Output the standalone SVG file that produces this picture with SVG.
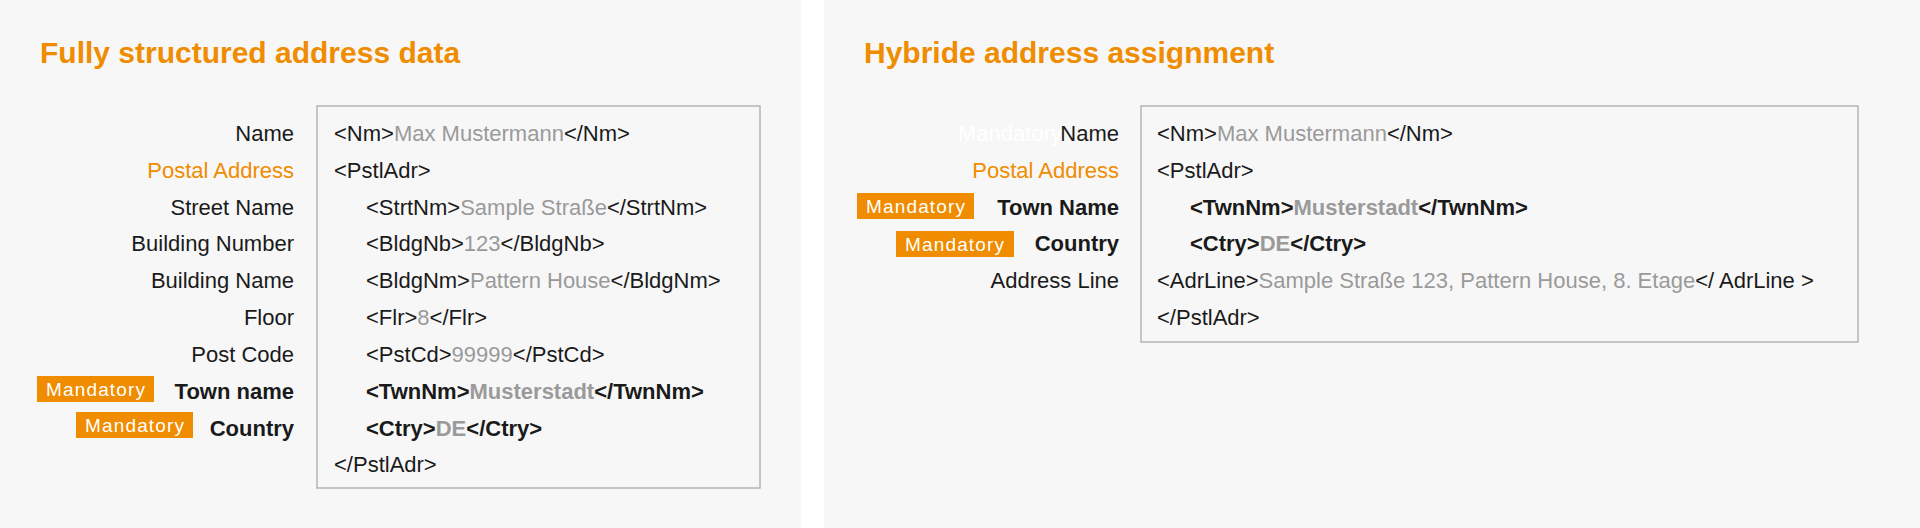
<svg xmlns="http://www.w3.org/2000/svg" width="1920" height="528" viewBox="0 0 1920 528">
<style>
text{font-family:"Liberation Sans",Arial,sans-serif;font-size:22px;fill:#1a1a1a}
.t{font-size:30px;font-weight:bold;fill:#ef8c00}
.l{text-anchor:end}
.o{fill:#ef8c00}
.g{fill:#9a9a9a}
.b{font-weight:bold}
.m{fill:#fff;font-size:19px}
.badge{fill:#ef8c00}
.box{fill:none;stroke:#b4b4b4;stroke-width:1.5}
</style>
<rect width="1920" height="528" fill="#fff"/>
<rect x="0" y="0" width="801" height="528" fill="#f7f7f7"/>
<rect x="824" y="0" width="1096" height="528" fill="#f7f7f7"/>
<g id="left">
<text class="t" x="40" y="63">Fully structured address data</text>
<rect class="box" x="317" y="106" width="443" height="382"/>
<text class="l" x="294" y="141">Name</text>
<text class="l o" x="294" y="178">Postal Address</text>
<text class="l" x="294" y="215">Street Name</text>
<text class="l" x="294" y="251">Building Number</text>
<text class="l" x="294" y="288">Building Name</text>
<text class="l" x="294" y="325">Floor</text>
<text class="l" x="294" y="362">Post Code</text>
<rect class="badge" x="37" y="376" width="117" height="26"/>
<text class="m" x="46" y="396" textLength="99">Mandatory</text>
<text class="l b" x="294" y="399">Town name</text>
<rect class="badge" x="76" y="412" width="117" height="26"/>
<text class="m" x="85" y="432" textLength="99">Mandatory</text>
<text class="l b" x="294" y="436">Country</text>
<text x="334" y="141">&lt;Nm&gt;<tspan class="g">Max Mustermann</tspan>&lt;/Nm&gt;</text>
<text x="334" y="178">&lt;PstlAdr&gt;</text>
<text x="366" y="215">&lt;StrtNm&gt;<tspan class="g">Sample Straße</tspan>&lt;/StrtNm&gt;</text>
<text x="366" y="251">&lt;BldgNb&gt;<tspan class="g">123</tspan>&lt;/BldgNb&gt;</text>
<text x="366" y="288">&lt;BldgNm&gt;<tspan class="g">Pattern House</tspan>&lt;/BldgNm&gt;</text>
<text x="366" y="325">&lt;Flr&gt;<tspan class="g">8</tspan>&lt;/Flr&gt;</text>
<text x="366" y="362">&lt;PstCd&gt;<tspan class="g">99999</tspan>&lt;/PstCd&gt;</text>
<text class="b" x="366" y="399">&lt;TwnNm&gt;<tspan class="g">Musterstadt</tspan>&lt;/TwnNm&gt;</text>
<text class="b" x="366" y="436">&lt;Ctry&gt;<tspan class="g">DE</tspan>&lt;/Ctry&gt;</text>
<text x="334" y="472">&lt;/PstlAdr&gt;</text>
</g>
<g id="right">
<text class="t" x="864" y="63">Hybride address assignment</text>
<rect class="box" x="1141" y="106" width="717" height="236"/>
<text class="l m" x="1062" y="141" style="font-size:22px">Mandatory</text>
<text class="l" x="1119" y="141">Name</text>
<text class="l o" x="1119" y="178">Postal Address</text>
<rect class="badge" x="857" y="193" width="117" height="26"/>
<text class="m" x="866" y="213" textLength="99">Mandatory</text>
<text class="l b" x="1119" y="215">Town Name</text>
<rect class="badge" x="896" y="231" width="118" height="26"/>
<text class="m" x="905" y="251" textLength="99">Mandatory</text>
<text class="l b" x="1119" y="251">Country</text>
<text class="l" x="1119" y="288">Address Line</text>
<text x="1157" y="141">&lt;Nm&gt;<tspan class="g">Max Mustermann</tspan>&lt;/Nm&gt;</text>
<text x="1157" y="178">&lt;PstlAdr&gt;</text>
<text class="b" x="1190" y="215">&lt;TwnNm&gt;<tspan class="g">Musterstadt</tspan>&lt;/TwnNm&gt;</text>
<text class="b" x="1190" y="251">&lt;Ctry&gt;<tspan class="g">DE</tspan>&lt;/Ctry&gt;</text>
<text x="1157" y="288">&lt;AdrLine&gt;<tspan class="g">Sample Straße 123, Pattern House, 8. Etage</tspan>&lt;/ AdrLine &gt;</text>
<text x="1157" y="325">&lt;/PstlAdr&gt;</text>
</g>
</svg>
